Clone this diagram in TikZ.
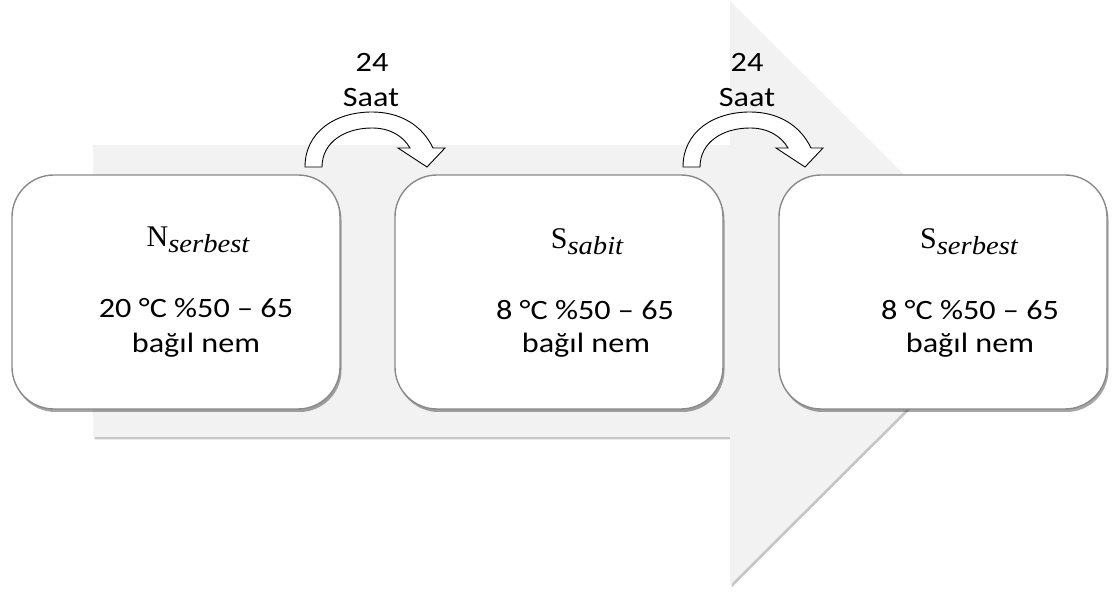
\documentclass[tikz,border=0pt]{standalone}
\usepackage{fontspec}
\setmainfont{Carlito}
\newfontfamily\mserif{Liberation Serif}
\usetikzlibrary{shadows}
\definecolor{arrowgray}{HTML}{F2F2F2}
\definecolor{boxedge}{HTML}{8A8A8A}
\tikzset{
  bigarrow/.style={fill=arrowgray, draw=none,
    drop shadow={shadow xshift=1.5pt, shadow yshift=-2.5pt, opacity=0.22, fill=black}},
  stagebox/.style={draw=boxedge, line width=1.4pt, fill=white, rounded corners=42pt,
    minimum width=328pt, minimum height=234pt, inner sep=0pt,
    drop shadow={shadow xshift=1.5pt, shadow yshift=-3pt, opacity=0.35, fill=black}},
  txt/.style={anchor=base, inner sep=0pt, font=\fontsize{28}{34}\selectfont},
  blockarr/.style={draw=black, line width=0.9pt, fill=white, line join=miter},
  curvearr/.pic={
    \path[blockarr] (0,0) -- (17,0)
      .. controls (17,-25) and (40,-39) .. (67,-39)
      .. controls (85,-39) and (98,-31) .. (105,-19)
      -- (93,-19) -- (122,0) -- (140,-19) -- (128,-19)
      .. controls (117,-42) and (95,-55) .. (67,-55)
      .. controls (30,-55) and (0,-35) .. (0,0) -- cycle;
  }
}
\newcommand{\wide}[1]{\scalebox{1.15}[1]{#1}}
\newcommand{\subtxt}[2]{{\mserif\fontsize{30}{34}\selectfont #1\raisebox{-6pt}{\scalebox{1.1}[1]{\mserif\fontsize{26}{26}\selectfont\itshape #2}}}}
\begin{document}
\begin{tikzpicture}[x=1pt,y=-1pt]
\useasboundingbox (0,0) rectangle (1112,593);
% big background arrow
\path[bigarrow] (93,145) -- (730,145) -- (730,1) -- (1023,293) -- (730,585) -- (730,437) -- (93,437) -- cycle;
% stage boxes
\node[stagebox] (b1) at (176,292) {};
\node[stagebox] (b2) at (559,292) {};
\node[stagebox] (b3) at (943,292) {};
% box texts
\node[txt] (n1) at (198,247) {\subtxt{N}{serbest}};
\node[txt] (c1) at (196,318) {\wide{20 °C \%50 – 65}};
\node[txt] (h1) at (196,353) {\wide{bağıl nem}};
\node[txt] (n2) at (587,249) {\subtxt{S}{sabit}};
\node[txt] (c2) at (585,320) {\wide{8 °C \%50 – 65}};
\node[txt] (h2) at (586,353) {\wide{bağıl nem}};
\node[txt] (n3) at (969,249) {\subtxt{S}{serbest}};
\node[txt] (c3) at (970,320) {\wide{8 °C \%50 – 65}};
\node[txt] (h3) at (970,353) {\wide{bağıl nem}};
% curved arrows
\pic (a1) at (305,167) {curvearr};
\pic (a2) at (683,167) {curvearr};
% labels
\node[txt] (d1) at (372,72) {\wide{24}};
\node[txt] (s1) at (371,107) {\wide{Saat}};
\node[txt] (d2) at (747,72) {\wide{24}};
\node[txt] (s2) at (747,107) {\wide{Saat}};
\end{tikzpicture}
\end{document}
